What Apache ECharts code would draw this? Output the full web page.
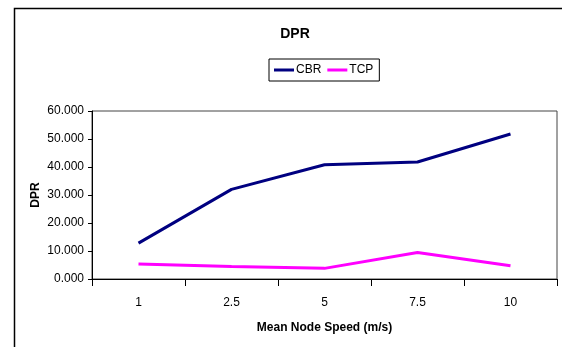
<!DOCTYPE html>
<html>
<head>
<meta charset="utf-8">
<script src="https://cdn.jsdelivr.net/npm/echarts@6/dist/echarts.min.js"></script>
<style>
html,body{margin:0;padding:0;background:#fff;}
#chart{width:562px;height:347px;}
</style>
</head>
<body>
<div id="chart"></div>
<script>
var speeds = ['1', '2.5', '5', '7.5', '10'];
var cbr = [12.8, 32.0, 40.8, 41.8, 51.8];
var tcp = [5.4, 4.5, 3.8, 9.5, 4.7];

var font = 'Liberation Sans, Arial, sans-serif';
var myChart = echarts.init(document.getElementById('chart'));

myChart.setOption({
    animation: false,
    backgroundColor: '#fff',
    title: {
        text: 'DPR',
        left: 290,
        top: 22,
        textAlign: 'center',
        textStyle: {fontFamily: font, fontSize: 14, fontWeight: 'bold', color: '#000'}
    },
    legend: {
        data: ['CBR', 'TCP'],
        left: 269,
        top: 59,
        padding: [5, 6, 5, 5],
        itemWidth: 20,
        itemHeight: 3,
        itemGap: 6,
        borderColor: '#000',
        borderWidth: 1,
        icon: 'rect',
        textStyle: {fontFamily: font, fontSize: 12, color: '#000', padding: [0, 0, 0, -3]}
    },
    grid: {
        left: 92,
        top: 111,
        right: 5,
        bottom: 68,
        show: true,
        borderColor: '#444',
        borderWidth: 1
    },
    xAxis: {
        type: 'category',
        data: speeds,
        boundaryGap: true,
        name: 'Mean Node Speed (m/s)',
        nameLocation: 'middle',
        nameGap: 43,
        nameMoveOverlap: false,
        nameTextStyle: {fontFamily: font, fontSize: 12, fontWeight: 'bold', color: '#000'},
        axisLine: {lineStyle: {color: '#000', width: 1}},
        axisTick: {show: true, length: 7, lineStyle: {color: '#000'}},
        axisLabel: {fontFamily: font, fontSize: 12, color: '#000', margin: 18},
        splitLine: {show: false}
    },
    yAxis: {
        type: 'value',
        min: 0,
        max: 60,
        interval: 10,
        name: 'DPR',
        nameLocation: 'middle',
        nameGap: 50,
        nameMoveOverlap: false,
        nameTextStyle: {fontFamily: font, fontSize: 12, fontWeight: 'bold', color: '#000'},
        axisLine: {show: true, lineStyle: {color: '#000', width: 1}},
        axisTick: {show: true, length: 4, lineStyle: {color: '#000'}},
        axisLabel: {
            fontFamily: font, fontSize: 12, color: '#000', margin: 8,
            formatter: function (v) { return v.toFixed(3); }
        },
        splitLine: {show: false}
    },
    series: [
        {
            name: 'CBR',
            type: 'line',
            data: cbr,
            symbol: 'none',
            color: '#000080',
            lineStyle: {width: 3, color: '#000080'}
        },
        {
            name: 'TCP',
            type: 'line',
            data: tcp,
            symbol: 'none',
            color: '#ff00ff',
            lineStyle: {width: 3, color: '#ff00ff'}
        }
    ],
    graphic: [
        {
            type: 'rect',
            shape: {x: 14.5, y: 8.5, width: 600, height: 400},
            style: {fill: 'none', stroke: '#000', lineWidth: 1.5},
            silent: true
        }
    ]
});
</script>
</body>
</html>
